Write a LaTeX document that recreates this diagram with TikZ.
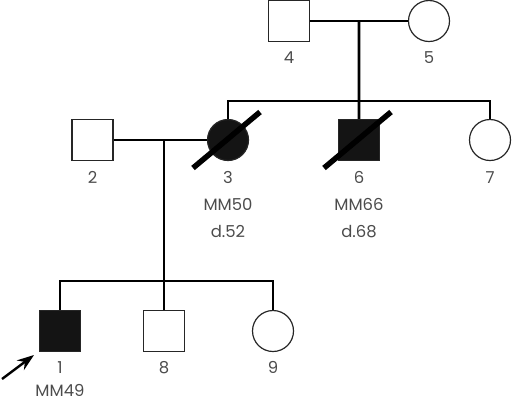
\documentclass[tikz,border=0pt]{standalone}
\usepackage{fontspec}
\setsansfont{Poppins}
\usepackage{tikz}
\usetikzlibrary{positioning,calc,arrows,arrows.meta}

\begin{document}
\begin{tikzpicture}[x=1bp,y=-1bp]
  \tikzstyle{sym}=[draw=black!85,line width=1.2bp,inner sep=0pt,minimum size=41bp];
  \tikzstyle{male}=[sym,rectangle]
  \tikzstyle{fem}=[sym,circle]
  \tikzstyle{aff}=[fill=black!92]
  \tikzstyle{ed}=[draw=black,line width=2.6bp]
  \tikzstyle{dec}=[draw=black,line width=5.5bp]
  \tikzstyle{lab}=[anchor=base,inner sep=0pt,text=black!70,font=\sffamily\fontsize{16.5}{19}\selectfont]
  \useasboundingbox (0,0) rectangle (512,403);
  % generation I
  \node [male] (m4) at (289,21) {};
  \node [fem] (f5) at (429,21) {};
  % generation II
  \node [male] (m2) at (92.5,140) {};
  \node [fem,aff] (f3) at (228,140) {};
  \node [male,aff] (m6) at (359,140) {};
  \node [fem] (f7) at (490,140) {};
  % generation III
  \node [male,aff] (m1) at (60,331) {};
  \node [male] (m8) at (164,331) {};
  \node [fem] (f9) at (273,331) {};
  \coordinate (u45) at ($(m4)!.5!(f5)$);
  \coordinate (s6) at (359,101);
  \coordinate (u23) at (164,140);
  \coordinate (s8) at (164,281);
  \draw [ed] (m4) -- (f5);
  \draw [ed] (u45) -- (m6);
  \draw [ed] (f3.north) |- (s6) -| (f7.north);
  \draw [ed] (m2) -- (f3);
  \draw [ed] (u23) -- (m8);
  \draw [ed] (m1.north) |- (s8) -| (f9.north);
  \draw [dec] ($(f3)+(-35,28)$) -- ($(f3)+(32,-28)$);
  \draw [dec] ($(m6)+(-35,28)$) -- ($(m6)+(32,-28)$);
  % proband
  \coordinate (a0) at (2,379);
  \coordinate (a1) at (34,355);
  \draw [-{Stealth[length=17bp,width=12bp]},line width=2.4bp] (a0) -- (a1);
  \node [lab] (l4) at (289,63) {4};
  \node [lab] (l5) at (429,63) {5};
  \node [lab] (l2) at (92.5,183) {2};
  \node [lab] (l3) at (228,183) {3};
  \node [lab] (l3a) at (228,210) {MM50};
  \node [lab] (l3b) at (228,237) {d.52};
  \node [lab] (l6) at (359,183) {6};
  \node [lab] (l6a) at (359,210) {MM66};
  \node [lab] (l6b) at (359,237) {d.68};
  \node [lab] (l7) at (490,183) {7};
  \node [lab] (l1) at (60,373) {1};
  \node [lab] (l1a) at (60,396) {MM49};
  \node [lab] (l8) at (164,373) {8};
  \node [lab] (l9) at (273,373) {9};
\end{tikzpicture}
\end{document}
